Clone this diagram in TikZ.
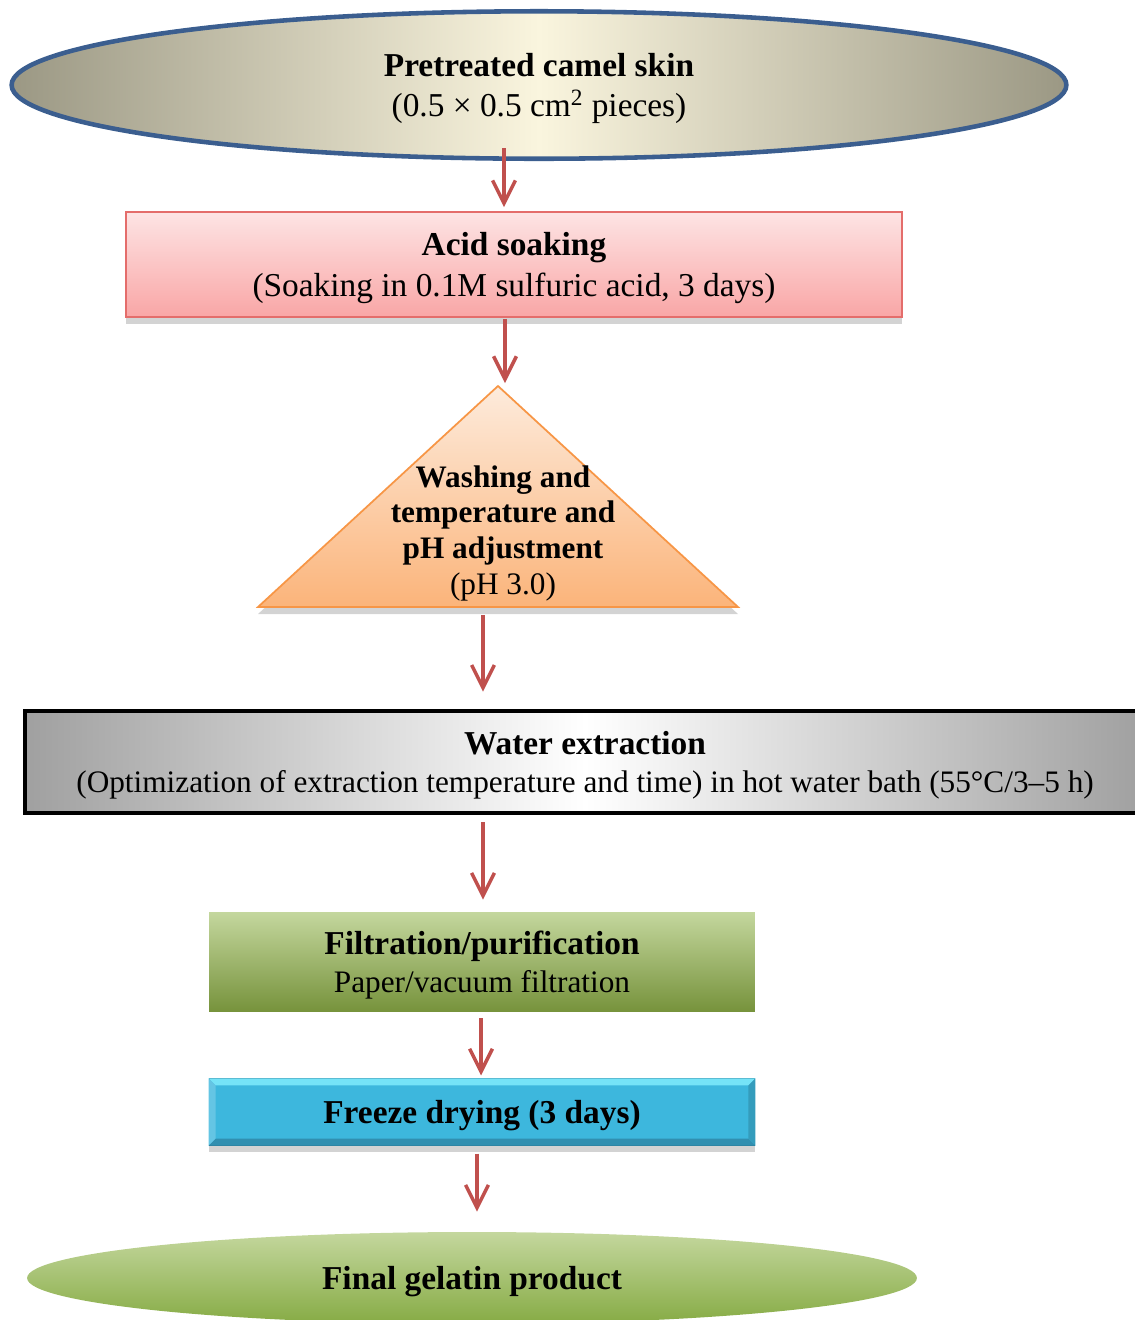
\documentclass[tikz,border=0pt]{standalone}
\usepackage{fontspec}
\setmainfont{Liberation Serif}
\usepackage{tikz}
\usetikzlibrary{arrows.meta, shapes.geometric, shadows}

\definecolor{arrowred}{HTML}{C0504D}
\definecolor{skinline}{HTML}{3B5E8F}
\definecolor{skinedge}{HTML}{9B9884}
\definecolor{skinmid}{HTML}{FAF5DE}
\definecolor{acidline}{HTML}{E46D6B}
\definecolor{acidtop}{HTML}{FDE4E4}
\definecolor{acidbot}{HTML}{F9A6A6}
\definecolor{washline}{HTML}{F79646}
\definecolor{washtop}{HTML}{FDEBDC}
\definecolor{washbot}{HTML}{FBB47A}
\definecolor{waterside}{HTML}{A0A0A0}
\definecolor{filttop}{HTML}{C4D79E}
\definecolor{filtbot}{HTML}{77933C}
\definecolor{freezetop}{HTML}{75E3F7}
\definecolor{freezemid}{HTML}{3DB7DD}
\definecolor{freezebot}{HTML}{318FB0}
\definecolor{freezeline}{HTML}{2B7590}
\definecolor{finaltop}{HTML}{C4D79E}
\definecolor{finalbot}{HTML}{86AB44}

\begin{document}
\begin{tikzpicture}[x=0.02cm, y=-0.02cm,
  flow/.style={draw=arrowred, line width=2pt, -{Straight Barb[length=13pt,width=13pt]}},
  boxtext/.style={align=center, text depth=0pt, font=\fontsize{19}{22.5}\selectfont},
  softshadow/.style={drop shadow={shadow xshift=0pt, shadow yshift=-4pt, opacity=0.35, fill=gray}}]
	\useasboundingbox (0,0) rectangle (1135,1320);
	\clip (0,0) rectangle (1135,1320);
	% steps
	\node[ellipse, draw=skinline, line width=2.6pt, minimum width=21.1cm, minimum height=2.95cm,
	  left color=skinedge, right color=skinedge, middle color=skinmid, boxtext] (skin) at (539,85)
	  {\textbf{Pretreated camel skin}\\(0.5 × 0.5 cm\textsuperscript{2} pieces)};
	\node[draw=acidline, line width=1pt, top color=acidtop, bottom color=acidbot, softshadow,
	  minimum width=15.52cm, minimum height=2.1cm, boxtext, font=\fontsize{19}{23.5}\selectfont] (acid) at (514,264.5)
	  {\textbf{Acid soaking}\\(Soaking in 0.1M sulfuric acid, 3 days)};
	\path[draw=washline, line width=1pt, top color=washtop, bottom color=washbot, softshadow]
	  (498,386) coordinate (apex) -- (738,607) -- (258,607) -- cycle;
	\coordinate (base) at (483,607);
	\node[boxtext, font=\fontsize{17.8}{20.4}\selectfont] (wash) at (503,530)
	  {\textbf{Washing and}\\\textbf{temperature and}\\\textbf{pH adjustment}\\(pH 3.0)};
	\node[draw=black, line width=2.6pt, left color=waterside, right color=waterside, middle color=white,
	  minimum width=22.4cm, minimum height=2.04cm, inner xsep=0pt, boxtext, font=\fontsize{19}{21.5}\selectfont] (water) at (585,762)
	  {\textbf{Water extraction}\\{\fontsize{17.8}{21.5}\selectfont(Optimization of extraction temperature and time) in hot water bath (55°C/3–5 h)}};
	\node[top color=filttop, bottom color=filtbot, minimum width=10.92cm, minimum height=1.98cm,
	  boxtext, font=\fontsize{19}{21.5}\selectfont] (filt) at (482,961.5)
	  {\textbf{Filtration/purification}\\{\fontsize{17.8}{21.5}\selectfont Paper/vacuum filtration}};
	\node[draw=freezeline, line width=0.6pt, fill=freezemid, softshadow,
	  minimum width=10.92cm, minimum height=1.32cm, boxtext] (freeze) at (482,1112)
	  {\textbf{Freeze drying (3 days)}};
	% bevel of the freeze box
	\fill[freezetop] (freeze.north west) -- (freeze.north east) -- ([shift={(-7,7)}]freeze.north east) -- ([shift={(7,7)}]freeze.north west) -- cycle;
	\fill[freezebot] (freeze.south west) -- (freeze.south east) -- ([shift={(-7,-7)}]freeze.south east) -- ([shift={(7,-7)}]freeze.south west) -- cycle;
	\fill[freezemid!80!white] (freeze.north west) -- ([shift={(7,7)}]freeze.north west) -- ([shift={(7,-7)}]freeze.south west) -- (freeze.south west) -- cycle;
	\fill[freezemid!85!black] (freeze.north east) -- ([shift={(-7,7)}]freeze.north east) -- ([shift={(-7,-7)}]freeze.south east) -- (freeze.south east) -- cycle;
	\node[ellipse, top color=finaltop, bottom color=finalbot, minimum width=17.8cm, minimum height=1.84cm,
	  boxtext] (final) at (472,1278) {\textbf{Final gelatin product}};
	% arrows
	\draw[flow] ([shift={(-35,-13)}]skin.south) -- ([shift={(-10,-4)}]acid.north);
	\draw[flow] ([shift={(-9,1)}]acid.south) -- ([shift={(7,-3)}]apex);
	\draw[flow] ([shift={(0,8)}]base) -- ([shift={(-102,-17)}]water.north);
	\draw[flow] ([shift={(-102,7)}]water.south) -- ([shift={(1,-12)}]filt.north);
	\draw[flow] ([shift={(-1,7)}]filt.south) -- ([shift={(-1,-3)}]freeze.north);
	\draw[flow] ([shift={(-5,8)}]freeze.south) -- ([shift={(5,-20)}]final.north);
\end{tikzpicture}
\end{document}
